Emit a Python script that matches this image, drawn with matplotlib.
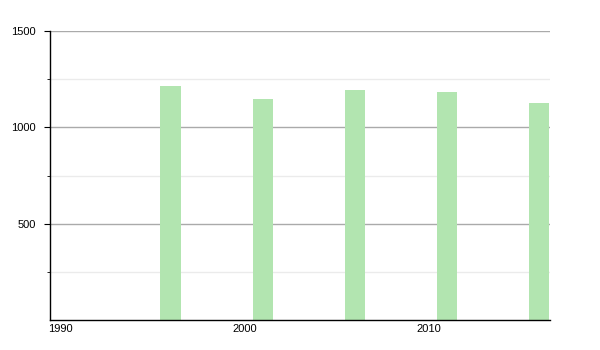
import numpy as np
import matplotlib
matplotlib.use("Agg")
import matplotlib.pyplot as plt

# population by census year
years = [1996, 2001, 2006, 2011, 2016]
values = [1214, 1146, 1194, 1185, 1128]
xticks = [1990, 2000, 2010]
yticks = [500, 1000, 1500]
yminor = [250, 750, 1250]

plt.rcParams['font.family'] = ['Liberation Sans', 'DejaVu Sans']

fig = plt.figure(figsize=(6, 3.5), dpi=100)
ax = fig.add_axes([50/600, 30/350, 500/600, 289/350])

for y in yminor:
    ax.axhline(y, color="#ebebeb", lw=1, zorder=0)
for y in yticks:
    ax.axhline(y, color="#aaaaaa", lw=1, zorder=0)

ax.bar(years, values, width=1.1, color="#b2e5b0", zorder=2)

ax.set_xlim(1989.45, 2016.6)
ax.set_ylim(0, 1500)
ax.set_xticks(xticks)
ax.set_xticklabels([str(x) for x in xticks])
ax.set_yticks(yticks)
ax.set_yticks(yminor, minor=True)

ax.spines['top'].set_visible(False)
ax.spines['right'].set_visible(False)
ax.spines['left'].set_linewidth(1)
ax.spines['bottom'].set_linewidth(1)
ax.tick_params(axis='x', length=0, labelsize=8, pad=3)
ax.tick_params(axis='y', which='major', length=4, labelsize=8, pad=6)
ax.tick_params(axis='y', which='minor', length=2)

fig.savefig("out.png", dpi=100)
